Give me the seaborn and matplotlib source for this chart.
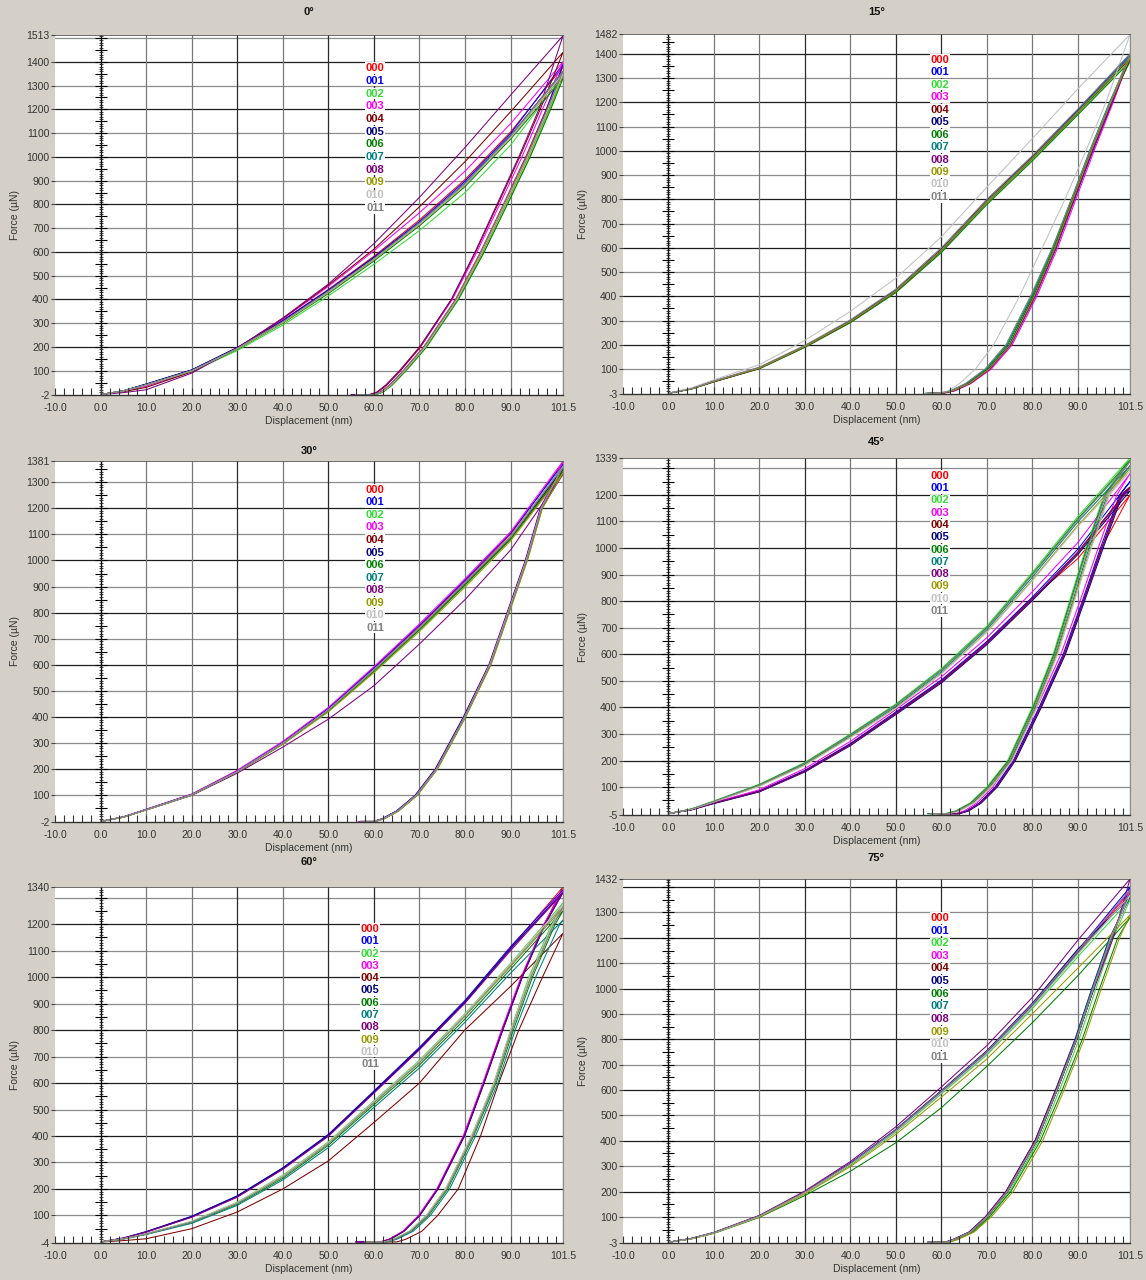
import matplotlib
matplotlib.use("Agg")
import matplotlib.pyplot as plt
import seaborn as sns
import pandas as pd
import numpy as np

# ---------------- data ----------------
SERIES = ["000", "001", "002", "003", "004", "005", "006", "007", "008", "009", "010", "011"]
COLORS = ["#ff0000", "#0000ff", "#33dd33", "#ff00ff", "#800000", "#000080",
          "#008000", "#008080", "#800080", "#999900", "#c0c0c0", "#808080"]

TITLES = ["0°", "15°", "30°", "45°", "60°", "75°"]
Y_MIN = [-2, -3, -2, -5, -4, -3]
Y_MAX = [1513, 1482, 1381, 1339, 1340, 1432]
X_TICKS = [-10.0, 0.0, 10.0, 20.0, 30.0, 40.0, 50.0, 60.0, 70.0, 80.0, 90.0, 101.5]

# loading: force (uN) at these displacements (nm)
LOAD_X = [0, 5, 10, 20, 30, 40, 50, 60, 70, 80, 90, 101.5]
# unloading: displacement (nm) at these force levels (uN); last entry = end of tail
UNLOAD_F = [1200, 1000, 800, 600, 400, 200, 100, 40, 10, 0, 0]

LOAD_0 = [
    [0, 15, 42, 102, 197, 312, 442, 582, 735, 905, 1105, 1380],
    [0, 16, 44, 104, 198, 312, 440, 578, 728, 898, 1098, 1390],
    [0, 14, 38, 96, 185, 292, 415, 548, 690, 850, 1050, 1340],
    [0, 13, 35, 98, 196, 318, 455, 605, 765, 940, 1140, 1400],
    [0, 12, 30, 95, 195, 320, 460, 612, 790, 980, 1190, 1440],
    [0, 16, 44, 103, 196, 308, 436, 575, 722, 890, 1090, 1360],
    [0, 15, 40, 98, 190, 300, 425, 562, 710, 875, 1075, 1330],
    [0, 15, 41, 100, 193, 305, 432, 570, 720, 885, 1085, 1350],
    [0, 8, 20, 90, 195, 322, 465, 635, 830, 1040, 1260, 1510],
    [0, 15, 41, 100, 192, 302, 430, 568, 716, 882, 1080, 1345],
    [0, 15, 40, 99, 193, 304, 432, 570, 718, 884, 1082, 1350],
    [0, 15, 41, 101, 194, 306, 435, 572, 722, 888, 1088, 1360],
]
UNLOAD_0 = [
    [97.8, 93.3, 88.4, 83.4, 77.9, 70.9, 66.4, 63.4, 61.4, 59.8, 56],
    [97.9, 93.5, 88.6, 83.6, 78.2, 71.2, 66.7, 63.7, 61.6, 60.1, 56.5],
    [98.6, 94.2, 89.2, 84.2, 78.6, 71.6, 67.1, 64.0, 62.0, 60.5, 57],
    [97.0, 92.5, 87.6, 82.6, 77.2, 70.2, 65.8, 62.8, 60.8, 59.2, 55],
    [96.5, 92.0, 87.2, 82.3, 77.0, 70.0, 65.6, 62.6, 60.6, 59.0, 55],
    [98.1, 93.6, 88.7, 83.7, 78.1, 71.1, 66.6, 63.6, 61.6, 60.0, 56],
    [98.8, 94.3, 89.3, 84.2, 78.5, 71.5, 67.0, 64.0, 62.0, 60.4, 57],
    [98.3, 93.8, 88.8, 83.8, 78.3, 71.3, 66.8, 63.8, 61.7, 60.2, 56.5],
    [96.2, 91.8, 87.0, 82.2, 77.0, 70.2, 65.8, 62.8, 60.8, 59.2, 55],
    [98.4, 93.9, 88.9, 83.9, 78.3, 71.3, 66.8, 63.8, 61.8, 60.2, 56],
    [98.2, 93.7, 88.7, 83.7, 78.2, 71.2, 66.7, 63.7, 61.7, 60.1, 56],
    [98.0, 93.5, 88.5, 83.5, 78.0, 71.0, 66.5, 63.5, 61.5, 60.0, 56],
]

LOAD_15 = [
    [0, 18, 48, 103, 192, 295, 420, 588, 788, 968, 1158, 1380],
    [0, 19, 50, 106, 195, 299, 426, 594, 795, 976, 1168, 1398],
    [0, 17, 47, 102, 190, 292, 417, 583, 782, 962, 1152, 1375],
    [0, 18, 49, 104, 193, 296, 422, 590, 790, 970, 1162, 1390],
    [0, 18, 48, 103, 192, 296, 423, 592, 793, 972, 1160, 1382],
    [0, 19, 50, 105, 194, 298, 424, 592, 792, 973, 1164, 1388],
    [0, 17, 47, 101, 189, 291, 415, 580, 778, 958, 1148, 1368],
    [0, 18, 49, 104, 194, 297, 423, 591, 791, 971, 1163, 1392],
    [0, 18, 48, 103, 192, 295, 421, 589, 789, 969, 1159, 1383],
    [0, 18, 49, 104, 193, 296, 422, 590, 790, 970, 1160, 1385],
    [0, 22, 56, 118, 218, 338, 475, 645, 850, 1050, 1255, 1480],
    [0, 19, 51, 108, 198, 303, 430, 600, 800, 980, 1172, 1400],
]
UNLOAD_15 = [
    [97.2, 92.9, 88.9, 84.9, 80.3, 75.0, 70.4, 66.0, 62.5, 60.0, 57],
    [97.6, 93.3, 89.2, 85.1, 80.4, 75.1, 70.5, 66.1, 62.6, 60.1, 57.5],
    [97.0, 92.8, 88.8, 84.8, 80.2, 74.9, 70.3, 65.9, 62.4, 59.9, 57],
    [97.8, 93.6, 89.6, 85.6, 81.0, 75.6, 71.0, 66.5, 63.0, 60.4, 58],
    [97.4, 93.1, 89.1, 85.1, 80.5, 75.2, 70.6, 66.2, 62.6, 60.1, 57],
    [97.3, 93.0, 89.0, 85.0, 80.3, 75.0, 70.4, 66.0, 62.5, 60.0, 57],
    [97.1, 92.8, 88.8, 84.7, 80.0, 74.6, 70.0, 65.6, 62.2, 59.8, 56.5],
    [97.0, 92.6, 88.6, 84.5, 79.8, 74.4, 69.8, 65.4, 62.0, 59.6, 56.5],
    [97.6, 93.3, 89.3, 85.3, 80.7, 75.3, 70.7, 66.3, 62.8, 60.3, 57.5],
    [97.3, 93.0, 89.0, 85.0, 80.4, 75.1, 70.5, 66.1, 62.5, 60.0, 57],
    [96.2, 91.8, 87.2, 82.2, 77.2, 71.5, 67.5, 64.0, 61.5, 59.5, 56],
    [97.1, 92.7, 88.6, 84.4, 79.6, 74.2, 69.6, 65.3, 62.0, 59.6, 57],
]

LOAD_30 = [
    [0, 17, 45, 103, 193, 303, 432, 586, 748, 920, 1100, 1375],
    [0, 18, 46, 104, 194, 304, 434, 589, 752, 925, 1105, 1370],
    [0, 16, 44, 100, 188, 296, 422, 574, 733, 905, 1080, 1345],
    [0, 18, 47, 105, 196, 307, 437, 593, 757, 930, 1110, 1380],
    [0, 17, 45, 102, 190, 298, 425, 578, 738, 910, 1085, 1350],
    [0, 17, 46, 103, 192, 300, 428, 580, 740, 912, 1088, 1355],
    [0, 16, 44, 101, 189, 297, 424, 576, 735, 906, 1082, 1340],
    [0, 17, 45, 102, 191, 300, 428, 582, 742, 915, 1092, 1362],
    [0, 17, 44, 100, 185, 285, 392, 520, 680, 850, 1040, 1330],
    [0, 16, 44, 101, 189, 296, 420, 570, 728, 898, 1075, 1335],
    [0, 17, 45, 102, 191, 300, 428, 581, 741, 914, 1090, 1360],
    [0, 17, 45, 102, 190, 299, 427, 580, 740, 913, 1089, 1358],
]
UNLOAD_30 = [
    [96.8, 93.5, 89.5, 85.5, 79.9, 73.7, 69.3, 65.2, 62.0, 60.1, 57],
    [96.6, 93.3, 89.3, 85.3, 79.7, 73.5, 69.1, 65.0, 61.8, 59.9, 57],
    [96.9, 93.6, 89.6, 85.6, 80.0, 73.8, 69.4, 65.3, 62.1, 60.2, 57.5],
    [96.5, 93.2, 89.2, 85.2, 79.6, 73.4, 69.0, 64.9, 61.7, 59.8, 56.5],
    [96.7, 93.4, 89.4, 85.4, 79.8, 73.6, 69.2, 65.1, 61.9, 60.0, 57],
    [96.6, 93.3, 89.3, 85.3, 79.7, 73.5, 69.1, 65.0, 61.8, 59.9, 57],
    [96.9, 93.6, 89.6, 85.6, 80.1, 73.9, 69.5, 65.4, 62.2, 60.3, 57.5],
    [96.7, 93.4, 89.4, 85.4, 79.8, 73.6, 69.2, 65.1, 61.9, 60.0, 57],
    [96.8, 93.5, 89.5, 85.5, 80.0, 73.8, 69.4, 65.3, 62.1, 60.2, 57],
    [97.0, 93.7, 89.7, 85.7, 80.1, 73.9, 69.5, 65.4, 62.2, 60.3, 57.5],
    [96.7, 93.4, 89.4, 85.4, 79.9, 73.7, 69.3, 65.2, 62.0, 60.1, 57],
    [96.8, 93.5, 89.5, 85.5, 79.9, 73.7, 69.3, 65.2, 62.0, 60.1, 57],
]

LOAD_45 = [
    [0, 15, 40, 85, 162, 262, 380, 500, 645, 812, 960, 1200],
    [0, 15, 41, 86, 163, 264, 383, 503, 648, 815, 995, 1250],
    [0, 18, 48, 111, 193, 300, 413, 546, 706, 908, 1118, 1339],
    [0, 16, 42, 90, 170, 272, 392, 515, 662, 835, 1020, 1280],
    [0, 15, 40, 84, 160, 260, 378, 497, 641, 808, 985, 1230],
    [0, 14, 38, 82, 157, 256, 373, 492, 636, 802, 975, 1215],
    [0, 17, 46, 109, 190, 297, 409, 541, 700, 901, 1110, 1330],
    [0, 17, 45, 106, 186, 292, 403, 534, 692, 890, 1098, 1310],
    [0, 15, 39, 83, 158, 258, 376, 495, 640, 806, 980, 1225],
    [0, 16, 44, 104, 183, 288, 398, 528, 684, 880, 1085, 1300],
    [0, 16, 44, 103, 182, 286, 396, 526, 682, 876, 1080, 1290],
    [0, 17, 46, 108, 189, 296, 408, 540, 698, 898, 1105, 1325],
]
UNLOAD_45 = [
    [99.5, 95.2, 91.2, 87.0, 81.7, 76.0, 72.0, 68.5, 65.7, 63.7, 59],
    [99.2, 95.0, 91.0, 86.8, 81.5, 75.8, 71.8, 68.3, 65.5, 63.5, 59],
    [95.8, 91.8, 88.2, 84.6, 80.0, 74.6, 70.0, 66.3, 63.1, 60.8, 57],
    [98.6, 94.5, 90.5, 86.3, 81.0, 75.3, 71.3, 67.8, 65.0, 63.0, 58.5],
    [99.4, 95.3, 91.3, 87.1, 81.8, 76.1, 72.1, 68.6, 65.8, 63.8, 59.5],
    [99.8, 95.6, 91.5, 87.3, 82.0, 76.3, 72.3, 68.8, 66.0, 64.0, 60],
    [96.0, 92.0, 88.4, 84.8, 80.2, 74.8, 70.2, 66.5, 63.3, 61.0, 57],
    [96.5, 92.5, 88.9, 85.2, 80.6, 75.2, 70.6, 66.9, 63.6, 61.3, 57.5],
    [99.6, 95.4, 91.3, 87.1, 81.8, 76.1, 72.1, 68.6, 65.8, 63.8, 59.5],
    [96.8, 92.8, 89.1, 85.4, 80.8, 75.4, 70.8, 67.1, 63.8, 61.5, 58],
    [97.0, 93.0, 89.3, 85.6, 81.0, 75.6, 71.0, 67.3, 64.0, 61.7, 58],
    [96.2, 92.2, 88.6, 85.0, 80.4, 75.0, 70.4, 66.7, 63.5, 61.2, 57.5],
]

LOAD_60 = [
    [0, 14, 38, 95, 172, 278, 404, 567, 732, 908, 1110, 1340],
    [0, 15, 39, 97, 174, 280, 406, 570, 735, 912, 1115, 1330],
    [0, 12, 31, 78, 150, 252, 378, 533, 686, 862, 1052, 1280],
    [0, 14, 37, 94, 170, 275, 400, 563, 727, 903, 1105, 1325],
    [0, 5, 12, 50, 113, 200, 306, 451, 600, 801, 965, 1165],
    [0, 14, 38, 96, 173, 278, 403, 566, 730, 906, 1108, 1320],
    [0, 11, 29, 73, 142, 240, 365, 518, 668, 842, 1030, 1250],
    [0, 11, 28, 70, 138, 234, 356, 508, 657, 830, 1015, 1215],
    [0, 14, 37, 93, 169, 274, 399, 562, 726, 902, 1100, 1318],
    [0, 12, 30, 76, 147, 248, 374, 528, 680, 856, 1045, 1270],
    [0, 12, 31, 77, 149, 250, 376, 531, 683, 860, 1050, 1275],
    [0, 12, 30, 75, 145, 245, 370, 525, 676, 852, 1040, 1262],
]
UNLOAD_60 = [
    [97.4, 92.4, 88.1, 84.0, 79.7, 73.9, 69.9, 66.4, 63.4, 61.4, 56],
    [97.5, 92.5, 88.2, 84.1, 79.8, 74.0, 70.0, 66.5, 63.5, 61.5, 56],
    [99.0, 94.0, 90.0, 86.3, 81.4, 75.7, 71.5, 67.8, 64.3, 62.3, 58],
    [97.3, 92.3, 88.0, 83.9, 79.6, 73.8, 69.8, 66.3, 63.3, 61.3, 56],
    [None, 97.0, 91.8, 87.4, 83.4, 78.5, 74.0, 70.5, 67.0, 65.0, 61],
    [97.6, 92.6, 88.3, 84.2, 79.9, 74.1, 70.1, 66.6, 63.6, 61.6, 56.5],
    [99.8, 94.8, 90.6, 86.8, 81.9, 76.2, 72.0, 68.2, 64.7, 62.7, 58],
    [100.8, 95.5, 91.0, 87.2, 82.3, 76.6, 72.4, 68.6, 65.0, 63.0, 58.5],
    [97.5, 92.5, 88.2, 84.1, 79.8, 74.0, 70.0, 66.5, 63.5, 61.5, 56],
    [99.3, 94.3, 90.1, 86.4, 81.5, 75.8, 71.6, 67.9, 64.4, 62.4, 58],
    [99.2, 94.2, 90.0, 86.3, 81.4, 75.7, 71.5, 67.8, 64.3, 62.3, 58],
    [99.5, 94.5, 90.3, 86.6, 81.7, 76.0, 71.8, 68.0, 64.5, 62.5, 58],
]

LOAD_75 = [
    [0, 14, 37, 103, 196, 308, 440, 592, 748, 934, 1145, 1380],
    [0, 15, 38, 104, 198, 310, 442, 595, 752, 938, 1150, 1400],
    [0, 14, 36, 101, 193, 303, 433, 584, 738, 920, 1125, 1350],
    [0, 14, 37, 103, 197, 309, 441, 594, 750, 936, 1150, 1385],
    [0, 14, 37, 102, 195, 306, 437, 589, 744, 928, 1138, 1370],
    [0, 15, 38, 104, 199, 312, 445, 598, 755, 942, 1155, 1360],
    [0, 13, 35, 98, 184, 280, 392, 530, 693, 865, 1050, 1280],
    [0, 14, 37, 103, 196, 307, 438, 590, 745, 930, 1140, 1365],
    [0, 15, 39, 106, 202, 318, 455, 612, 775, 965, 1190, 1432],
    [0, 13, 36, 100, 190, 298, 425, 572, 722, 900, 1080, 1290],
    [0, 14, 37, 102, 195, 306, 436, 588, 743, 927, 1135, 1368],
    [0, 15, 38, 104, 198, 310, 443, 596, 752, 938, 1148, 1390],
]
UNLOAD_75 = [
    [97.2, 93.3, 89.6, 85.3, 80.8, 74.4, 69.9, 66.3, 62.7, 61.0, 57],
    [97.5, 93.5, 89.8, 85.5, 81.0, 74.6, 70.1, 66.5, 62.9, 61.2, 57.5],
    [97.8, 94.0, 90.3, 86.0, 81.4, 75.0, 70.5, 66.8, 63.2, 61.4, 57.5],
    [97.3, 93.4, 89.7, 85.4, 80.9, 74.5, 70.0, 66.4, 62.8, 61.1, 57],
    [97.4, 93.5, 89.8, 85.5, 81.0, 74.6, 70.1, 66.5, 62.9, 61.2, 57.5],
    [97.0, 93.1, 89.4, 85.1, 80.6, 74.2, 69.7, 66.1, 62.5, 60.8, 57],
    [98.8, 94.8, 91.0, 86.6, 81.8, 75.3, 70.6, 67.0, 63.4, 61.6, 58],
    [97.1, 93.2, 89.5, 85.2, 80.7, 74.3, 69.8, 66.2, 62.6, 60.9, 57],
    [97.8, 93.6, 89.6, 85.2, 80.6, 74.2, 69.7, 66.1, 62.5, 60.8, 57],
    [99.2, 95.2, 91.4, 87.0, 82.3, 75.8, 71.0, 67.2, 63.5, 61.7, 58],
    [97.3, 93.4, 89.7, 85.4, 80.9, 74.5, 70.0, 66.4, 62.8, 61.1, 57],
    [97.4, 93.4, 89.7, 85.4, 80.9, 74.5, 70.0, 66.4, 62.8, 61.1, 57],
]

LOADS = [LOAD_0, LOAD_15, LOAD_30, LOAD_45, LOAD_60, LOAD_75]
UNLOADS = [UNLOAD_0, UNLOAD_15, UNLOAD_30, UNLOAD_45, UNLOAD_60, UNLOAD_75]

# ---------------- layout (pixels of a 1146x1280 canvas) ----------------
W, H = 1146, 1280
# (left, top, right, bottom)
BOXES = [(55, 35, 563, 395), (623, 34, 1130, 394),
         (55, 461, 563, 822), (623, 458, 1130, 815),
         (55, 887, 563, 1243), (623, 879, 1130, 1243)]
TITLE_Y = [12, 12, 451, 442, 862, 858]
LEGEND_POS = [(0.63, 0.908, 0.0353), (0.625, 0.928, 0.0346),
              (0.63, 0.92, 0.0347), (0.625, 0.95, 0.0344),
              (0.62, 0.882, 0.0345), (0.625, 0.893, 0.0347)]

sns.set_style("white")
plt.rcParams["font.family"] = ["Liberation Sans", "DejaVu Sans"]

BG = "#d4d0c8"
fig = plt.figure(figsize=(W / 100, H / 100), dpi=100, facecolor=BG)
palette = dict(zip(SERIES, COLORS))

for p in range(6):
    l, t, r, b = BOXES[p]
    ax = fig.add_axes([l / W, 1 - b / H, (r - l) / W, (b - t) / H])
    ax.set_facecolor("white")
    ymin, ymax = Y_MIN[p], Y_MAX[p]

    # grid
    for h in range(100, ymax, 100):
        ax.axhline(h, color="#1e1e1e" if (h // 100) % 2 == 0 else "#8c8c8c",
                   lw=0.9, zorder=0.5)
    for v in range(10, 100, 10):
        ax.axvline(v, color="#2a2a2a" if v in (30, 50, 60) else "#7a7a7a",
                   lw=0.9, zorder=0.5)
    ax.axvline(101.5, color="#8c8c8c", lw=1.0, zorder=0.5)

    # x = 0 hatched axis
    ax.axvline(0, color="black", lw=1.0, zorder=1)
    minor_y = np.arange(10, ymax, 10)
    major_y = np.arange(50, ymax, 50)
    ax.plot(np.zeros(len(minor_y)), minor_y, ls="none", marker="_", ms=3.5,
            mew=0.6, color="#222222", zorder=1)
    ax.plot(np.zeros(len(major_y)), major_y, ls="none", marker="_", ms=8,
            mew=0.8, color="black", zorder=1)
    # bottom baseline ticks
    bx = np.arange(-10, 101.5, 2)
    ax.plot(bx, np.full(len(bx), ymin), ls="none", marker=2, ms=5, mew=0.8,
            color="#333333", zorder=3, clip_on=False)

    # curves
    rows = []
    for i, s in enumerate(SERIES):
        L = LOADS[p][i]
        U = UNLOADS[p][i]
        fmax = L[-1]
        for x, f in zip(LOAD_X, L):
            rows.append((s, x, f))
        for x, f in zip(U, UNLOAD_F):
            if x is None or f >= fmax:
                continue
            rows.append((s, x, f))
    df = pd.DataFrame(rows, columns=["series", "disp", "force"])
    sns.lineplot(data=df, x="disp", y="force", hue="series", units="series",
                 estimator=None, sort=False, palette=palette, linewidth=0.75,
                 legend=False, ax=ax, zorder=2)

    ax.set_xlim(-10, 101.5)
    ax.set_ylim(ymin, ymax)
    ax.set_xlabel("")
    ax.set_ylabel("")
    ax.set_xticks(X_TICKS)
    ax.set_xticklabels([f"{v:.1f}" for v in X_TICKS])
    yt = [ymin] + [h for h in range(100, ymax, 100) if ymax - h > 50] + [ymax]
    ax.set_yticks(yt)
    ax.set_yticklabels([str(v) for v in yt])
    ax.tick_params(axis="y", length=3, width=0.8, color="#444444", labelsize=7.5,
                   labelcolor="#333333", pad=1, left=True)
    ax.tick_params(axis="x", length=0, labelsize=7.5, labelcolor="#333333", pad=6)
    ax.spines["left"].set_visible(False)
    ax.spines["top"].set_color("#555555")
    ax.spines["top"].set_linewidth(0.6)
    ax.spines["right"].set_color("#8c8c8c")
    ax.spines["bottom"].set_color("#333333")
    ax.spines["bottom"].set_linewidth(1.0)

    # series labels
    lx, ly, step = LEGEND_POS[p]
    for k, s in enumerate(SERIES):
        ax.text(lx, ly - k * step, s, transform=ax.transAxes, color=COLORS[k],
                fontsize=8, fontweight="bold", ha="center", va="center",
                zorder=6, bbox=dict(facecolor="white", edgecolor="none", pad=0.5))

    cx = (l + r) / 2 / W
    fig.text(cx, 1 - TITLE_Y[p] / H, TITLES[p], ha="center", va="center",
             fontsize=8, fontweight="bold", color="#111111")
    fig.text(cx, 1 - (b + 26) / H, "Displacement (nm)", ha="center", va="center",
             fontsize=7.5, color="#333333")
    fig.text((l - 40) / W, 1 - (t + b) / 2 / H, "Force (µN)", rotation=90,
             ha="center", va="center", fontsize=7.5, color="#333333")

fig.savefig("out.png", dpi=100, facecolor=BG)
